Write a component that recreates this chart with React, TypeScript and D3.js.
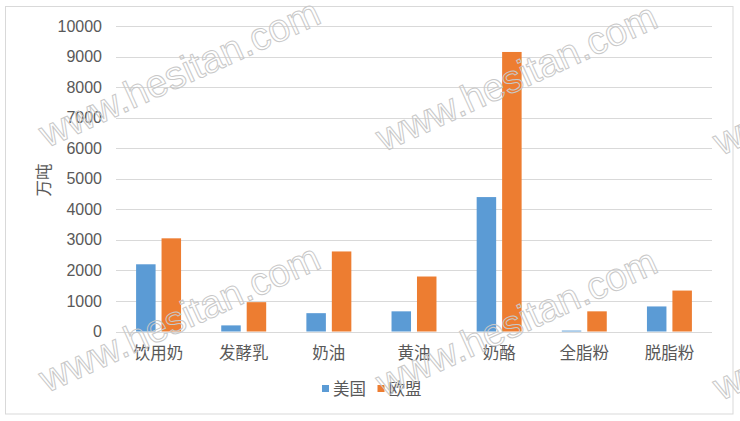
import React from "react";
import * as d3 from "d3";

const categories = ["饮用奶", "发酵乳", "奶油", "黄油", "奶酪", "全脂粉", "脱脂粉"];
const usValues = [2200, 200, 600, 660, 4400, 30, 820];
const euValues = [3050, 960, 2620, 1800, 9150, 660, 1340];
const seriesNames = ["美国", "欧盟"];
const seriesColors = ["#5b9bd5", "#ed7d31"];
const yTicks = [0, 1000, 2000, 3000, 4000, 5000, 6000, 7000, 8000, 9000, 10000];
const yLabel = "万吨";
const watermarkText = "www.hesitan.com";
const watermarkCols = [47, 384, 721];
const watermarkRows = [148, 393];

const W = 740;
const H = 421;
const plot = { left: 116, right: 712, top: 26, bottom: 331.5 };
const fontNum = "'Liberation Sans', Arial, sans-serif";
const fontCJK = "'Liberation Sans', 'Noto Sans CJK SC', sans-serif";
const textColor = "#595959";

export default function App() {
  const x = d3.scaleBand<string>().domain(categories).range([plot.left, plot.right]).padding(0);
  const y = d3.scaleLinear().domain([0, 10000]).range([plot.bottom, plot.top]);
  const step = x.bandwidth();
  const barW = step * 0.229;
  const gap = step * 0.07;
  const series = [usValues, euValues];

  return (
    <svg width={W} height={H} style={{ position: "absolute", left: 0, top: 0, background: "#fff" }}>
      <rect x={0} y={0} width={W} height={H} fill="#fff" />
      <rect x={5.5} y={6.5} width={727.5} height={407.5} fill="none" stroke="#d9d9d9" strokeWidth={1} />
      {yTicks.map((t) => (
        <g key={t}>
          <line x1={plot.left} x2={plot.right} y1={Math.round(y(t)) + 0.5} y2={Math.round(y(t)) + 0.5} stroke="#d9d9d9" strokeWidth={1} />
          <text x={102} y={y(t)} dy="0.35em" textAnchor="end" fontSize={16} fontFamily={fontNum} fill={textColor}>
            {t}
          </text>
        </g>
      ))}
      {categories.map((c, i) => {
        const cx = (x(c) as number) + step / 2;
        const groupW = barW * 2 + gap;
        return (
          <g key={c}>
            {series.map((vals, s) => {
              const bx = cx - groupW / 2 + s * (barW + gap);
              return (
                <rect
                  key={s}
                  x={bx}
                  y={y(vals[i])}
                  width={barW}
                  height={y(0) - y(vals[i])}
                  fill={seriesColors[s]}
                />
              );
            })}
            <text x={cx} y={353} dy="0.35em" textAnchor="middle" fontSize={16.5} fontFamily={fontCJK} fill={textColor}>
              {c}
            </text>
          </g>
        );
      })}
      <text
        transform={`translate(44,180) rotate(-90)`}
        textAnchor="middle"
        dy="0.35em"
        fontSize={16.5}
        fontFamily={fontCJK}
        fill={textColor}
      >
        {yLabel}
      </text>
      {seriesNames.map((n, s) => {
        const lx = 322 + s * 55.5;
        return (
          <g key={n}>
            <rect x={lx} y={385} width={7} height={7} fill={seriesColors[s]} />
            <text x={lx + 11} y={389} dy="0.35em" fontSize={16.5} fontFamily={fontCJK} fill={textColor}>
              {n}
            </text>
          </g>
        );
      })}
      {watermarkRows.map((ry, r) =>
        watermarkCols.map((cxw, c) => (
          <text
            key={`${r}-${c}`}
            transform={`translate(${cxw},${ry + c * 4}) rotate(-24.5)`}
            fontSize={39}
            fontFamily={fontNum}
            fill="none"
            stroke="#c8c8c8"
            strokeWidth={1}
          >
            {watermarkText}
          </text>
        ))
      )}
    </svg>
  );
}
